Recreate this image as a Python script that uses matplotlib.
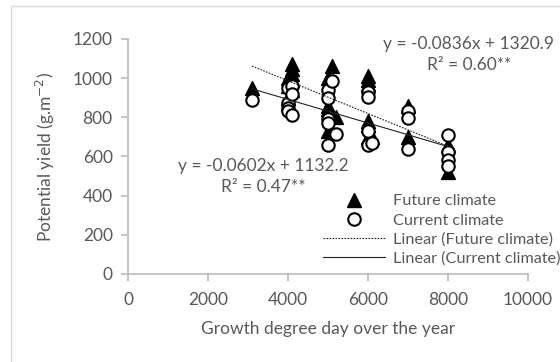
import matplotlib
matplotlib.use("Agg")
import matplotlib.pyplot as plt
from matplotlib.lines import Line2D
from matplotlib.patches import Rectangle
import numpy as np

plt.rcParams['font.family'] = ['Lato', 'DejaVu Sans']

# growth degree days vs potential yield
future_x = [3100, 4000, 4000, 4000, 4000, 4100, 4100, 4100, 4100, 4100,
            5000, 5000, 5000, 5000, 5100, 5200,
            6000, 6000, 6000, 6000, 6000, 6000, 6100,
            7000, 7000, 8000, 8000]
future_y = [950, 1000, 960, 900, 870, 1070, 1045, 1020, 990, 940,
            1000, 860, 840, 730, 1060, 800,
            1010, 990, 970, 780, 760, 700, 700,
            860, 700, 660, 520]

current_x = [3100, 4000, 4000, 4000, 4000, 4100, 4100, 4100,
             5000, 5000, 5000, 5000, 5000, 5100, 5200,
             6000, 6000, 6000, 6000, 6100,
             7000, 7000, 7000, 8000, 8000, 8000, 8000]
current_y = [890, 950, 875, 850, 830, 960, 920, 810,
             940, 900, 790, 770, 660, 985, 715,
             930, 905, 730, 660, 670,
             830, 795, 640, 710, 625, 580, 550]

# linear fits as reported
fut_slope, fut_icpt, fut_r2 = -0.0836, 1320.9, 0.60
cur_slope, cur_icpt, cur_r2 = -0.0602, 1132.2, 0.47

GRAY = '#595959'
AX = '#bfbfbf'
FS = 12.5

fig = plt.figure(figsize=(5.6, 3.62), dpi=100)
ax = fig.add_axes([0.2286, 0.2431, 0.7143, 0.6492])

# chart area frame
fig.patches.append(Rectangle((11 / 560, -0.1), 1.2, 1 - 6 / 362 + 0.1,
                             transform=fig.transFigure, fill=False,
                             edgecolor='#d9d9d9', lw=1))

ax.scatter(future_x, future_y, marker='^', s=100, color='black', zorder=3)
ax.scatter(current_x, current_y, marker='o', s=80, facecolor='white',
           edgecolor='black', linewidths=1.5, zorder=4)

xs = np.array([min(future_x), max(future_x)])
ax.plot(xs, fut_slope * xs + fut_icpt, color='#222222', lw=0.8,
        linestyle=(0, (1.5, 1.2)), zorder=5)
xs = np.array([min(current_x), max(current_x)])
ax.plot(xs, cur_slope * xs + cur_icpt, color='#222222', lw=0.8, zorder=5)

ax.text(8520, 1120, f'y = {fut_slope}x + {fut_icpt}\nR² = {fut_r2:.2f}**',
        ha='center', va='center', fontsize=FS, color=GRAY, linespacing=1.4)
ax.text(3380, 497, f'y = {cur_slope}x + {cur_icpt}\nR² = {cur_r2:.2f}**',
        ha='center', va='center', fontsize=FS, color=GRAY, linespacing=1.4)

ax.set_xlim(0, 10000)
ax.set_ylim(0, 1200)
ax.set_xticks(range(0, 10001, 2000))
ax.set_yticks(range(0, 1201, 200))
for s in ['top', 'right']:
    ax.spines[s].set_visible(False)
for s in ['left', 'bottom']:
    ax.spines[s].set_color(AX)
    ax.spines[s].set_linewidth(1.3)
ax.tick_params(colors=AX, labelcolor=GRAY, labelsize=FS, length=5,
               width=1.3, pad=6)
ax.tick_params(axis='x', pad=8)
ax.set_xlabel('Growth degree day over the year', fontsize=FS, color=GRAY,
              labelpad=9)
ax.set_ylabel('Potential yield (g.m$^{-2}$)', fontsize=FS, color=GRAY)
ax.yaxis.set_label_coords(-0.178, 0.5)

handles = [
    Line2D([], [], marker='^', color='black', ls='none', markersize=10),
    Line2D([], [], marker='o', markerfacecolor='white', markeredgecolor='black',
           markeredgewidth=1.5, ls='none', markersize=9),
    Line2D([], [], color='#222222', lw=0.8, linestyle=(0, (1.5, 1.2))),
    Line2D([], [], color='#222222', lw=0.8),
]
labels = ['Future climate', 'Current climate',
          'Linear (Future climate)', 'Linear (Current climate)']
ax.legend(handles, labels, loc='upper left', bbox_to_anchor=(323 / 560, 1 - 194 / 362),
          bbox_transform=fig.transFigure, frameon=False, fontsize=11.7,
          labelcolor=GRAY, handlelength=3.8, handletextpad=0.5,
          labelspacing=0.3, borderpad=0, borderaxespad=0)

fig.savefig('out.png', dpi=100)
